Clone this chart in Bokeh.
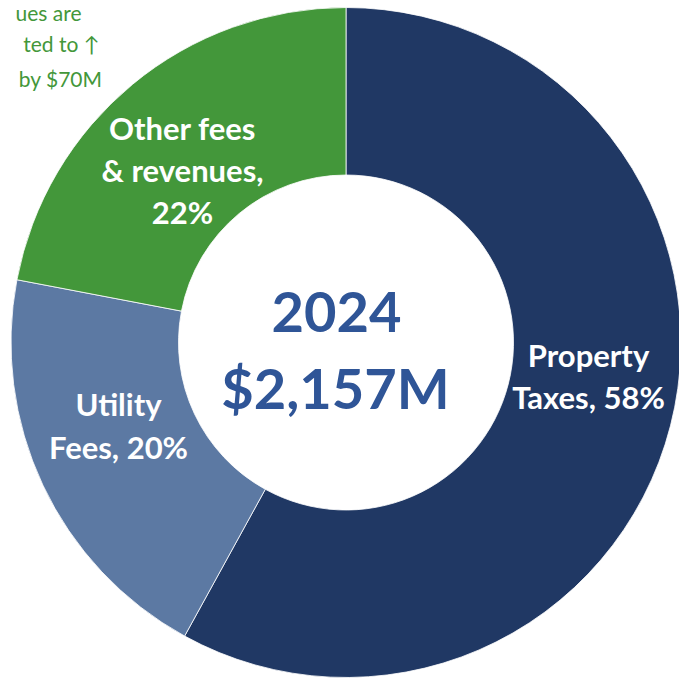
from bokeh.plotting import figure
from bokeh.models import Range1d, ColumnDataSource
from bokeh.core.properties import value
from bokeh.embed import file_html
from bokeh.resources import INLINE
import math

# ---- data ----
categories = ["Property Taxes", "Utility Fees", "Other fees & revenues"]
shares = [58, 20, 22]
colors = ["#203864", "#5C79A3", "#43973A"]
label_lines = [["Property", "Taxes, 58%"], ["Utility", "Fees, 20%"], ["Other fees", "& revenues,", "22%"]]
center_lines = ["2024", "$2,157M"]
note_lines = ["ues are", "ted to \u2191", "by $70M"]

W, H = 679, 680
p = figure(width=W, height=H, output_backend="svg", toolbar_location=None,
           x_range=Range1d(0, W), y_range=Range1d(-H, 0),
           x_axis_type=None, y_axis_type=None, min_border=0,
           background_fill_color="white", border_fill_color="white")
p.outline_line_color = None
p.grid.visible = False

cx, cy = 345.5, -342.0
R_out, R_in = 335, 167.5

total = sum(shares)
starts, ends = [], []
a = math.pi / 2
for s in shares:
    starts.append(a)
    a -= s / total * 2 * math.pi
    ends.append(a)

src = ColumnDataSource(dict(x=[cx] * 3, y=[cy] * 3, start=starts, end=ends, color=colors, cat=categories))
p.annular_wedge(x="x", y="y", inner_radius=R_in, outer_radius=R_out, inner_radius_units="screen",
                outer_radius_units="screen", start_angle="start", end_angle="end", direction="clock",
                fill_color="color", line_color="white", line_width=0.8, source=src)


def base(b, size):
    # baseline position corrected for renderer offset
    return -(b - 0.37 * size)


# slice labels
LS = 31
label_pos = [(588, [366, 408]), (118, [415, 458]), (182, [139, 181, 223])]
for (lx, bases), lines in zip(label_pos, label_lines):
    p.text(x=[lx] * len(lines), y=[base(b, LS) for b in bases], text=lines, text_align="center",
           text_baseline="alphabetic", text_color="white", text_font=value("Lato"),
           text_font_style="bold", text_font_size=f"{LS}px")

# center text
CS = 56
p.text(x=[336, 335], y=[base(332, CS), base(408, CS)], text=center_lines, text_align="center",
       text_baseline="alphabetic", text_color="#2F5597", text_font=value("Lato"),
       text_font_style="bold", text_font_size=f"{CS}px")

# note (cut off at left edge)
NS = 21
p.text(x=[81, 99, 102], y=[base(19.5, NS), base(51, NS), base(86, NS)], text=note_lines,
       text_align="right", text_baseline="alphabetic", text_color="#43973A",
       text_font=value("Lato"), text_font_size=f"{NS}px")

open("out.html", "w").write(file_html(p, INLINE))
